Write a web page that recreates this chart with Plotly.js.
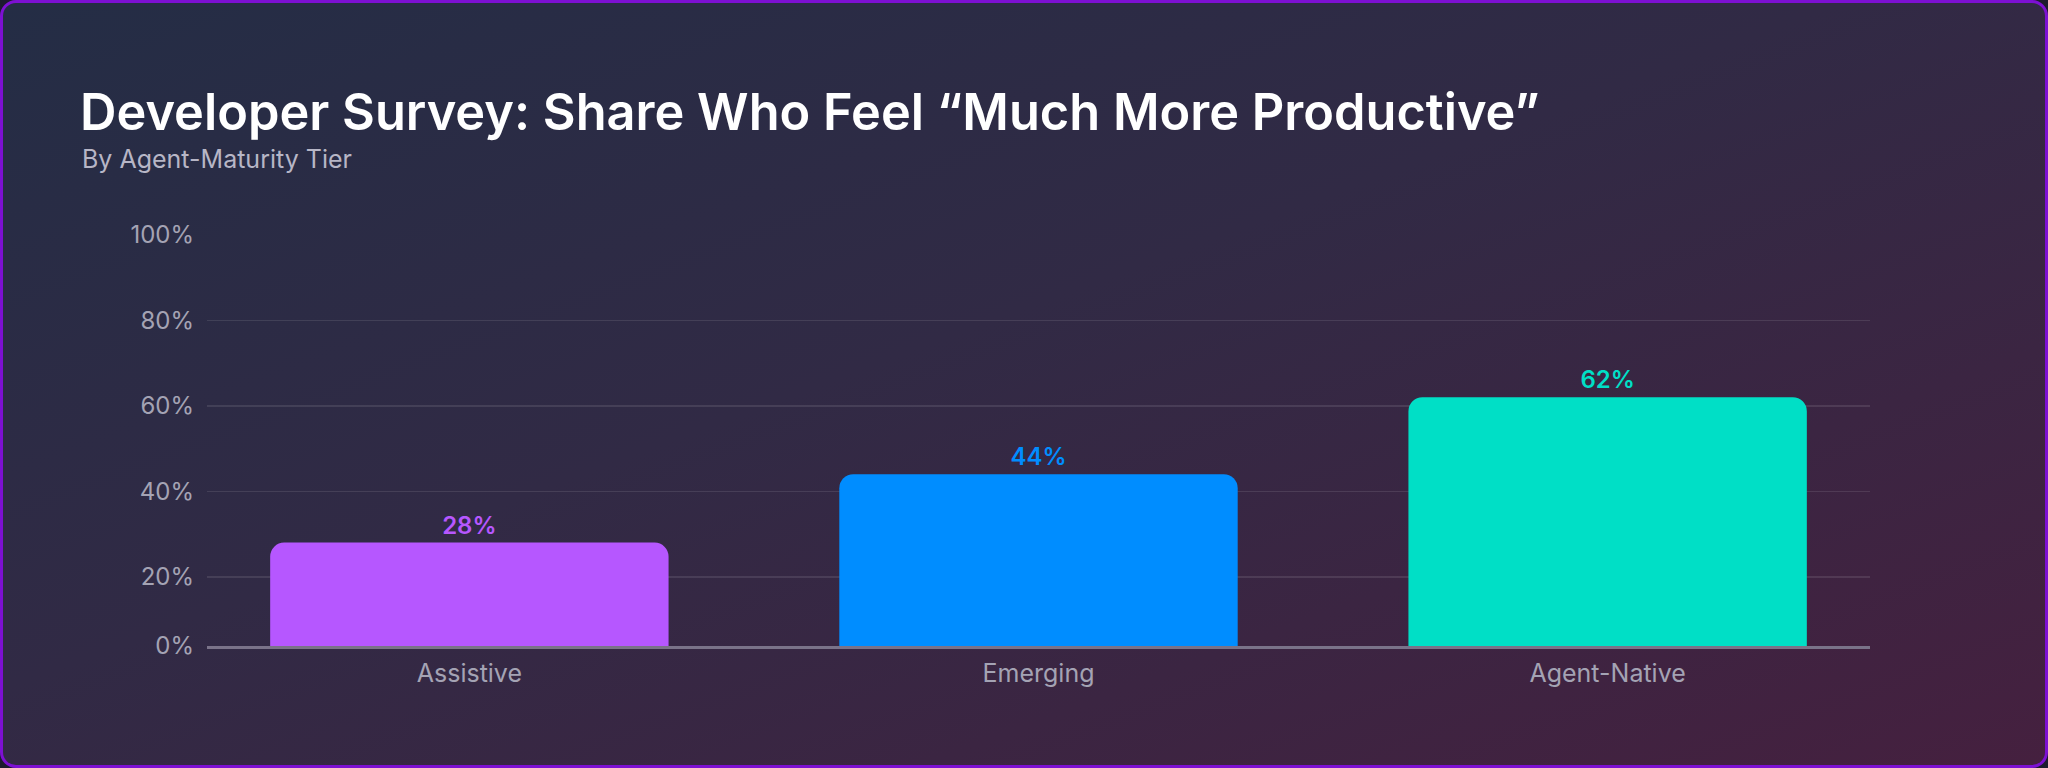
<!DOCTYPE html>
<html>
<head>
<meta charset="utf-8">
<script src="https://cdn.plot.ly/plotly-3.0.1.min.js"></script>
<style>
  html, body { margin: 0; padding: 0; width: 2048px; height: 768px; overflow: hidden; background: #1d1b2e; }
  #card {
    position: absolute; left: 0; top: 0; width: 2048px; height: 768px;
    box-sizing: border-box; border: 3px solid #7d10d2; border-radius: 16px;
    background: linear-gradient(to bottom right, #242d45 0%, #312a45 45%, #45203f 100%);
  }
  #chart { position: absolute; left: 0; top: 0; width: 2048px; height: 768px; }
</style>
</head>
<body>
<div id="card"></div>
<div id="chart"></div>
<script>
// ─── data ───────────────────────────────────────────────
var tiers = ['Assistive', 'Emerging', 'Agent-Native'];
var muchMoreProductive = [28, 44, 62];
var tierColors = ['#b657ff', '#008dff', '#00dfc6'];
var yTickVals = [3.8, 20, 40, 60, 80, 100];   // axis floor sits a little above zero
var yTickText = ['0%', '20%', '40%', '60%', '80%', '100%'];

var W = 2048, H = 768;
var plotL = 207, plotR = 1870, plotT = 234, plotB = 646;
var FONT = 'Inter, "Noto Sans", sans-serif';

// pixel -> paper helpers for the header text
function px(x) { return (x - plotL) / (plotR - plotL); }
function py(y) { return (plotB - y) / (plotB - plotT); }

var trace = {
  type: 'bar',
  x: tiers,
  y: muchMoreProductive,
  width: 0.7,
  marker: { color: tierColors, cornerradius: 14, line: { width: 0 } },
  text: muchMoreProductive.map(function (v) { return v + '%'; }),
  textposition: 'outside',
  cliponaxis: false,
  textfont: { family: FONT, size: 24, weight: 600, color: tierColors },
  hoverinfo: 'x+y'
};

var layout = {
  width: W, height: H,
  paper_bgcolor: 'rgba(0,0,0,0)',
  plot_bgcolor: 'rgba(0,0,0,0)',
  margin: { l: plotL, r: W - plotR, t: plotT, b: H - plotB, pad: 0 },
  showlegend: false,
  font: { family: FONT, color: '#a4a3b4' },
  title: {
    text: 'Developer Survey: Share Who Feel \u201cMuch More Productive\u201d',
    font: { family: FONT, size: 50.5, weight: 600, color: '#ffffff' },
    xref: 'container', yref: 'container',
    x: 80 / W, xanchor: 'left',
    y: 1 - 112 / H, yanchor: 'middle'
  },
  annotations: [{
    text: 'By Agent-Maturity Tier',
    xref: 'paper', yref: 'paper',
    x: px(80), y: py(159), xanchor: 'left', yanchor: 'middle',
    showarrow: false,
    font: { family: FONT, size: 25, color: '#b7b6c6' }
  }],
  xaxis: {
    range: [-0.461, 2.461],
    showgrid: false, zeroline: false,
    showline: true, linecolor: '#7a7389', linewidth: 3,
    ticks: '', ticklabelstandoff: 3,
    tickfont: { family: FONT, size: 25, color: '#a4a3b4' },
    fixedrange: true
  },
  yaxis: {
    range: [3.8, 100.2],
    tickvals: yTickVals, ticktext: yTickText,
    showgrid: true, gridcolor: 'rgba(255,255,255,0.10)', gridwidth: 1.5,
    zeroline: false, showline: false,
    ticks: '', ticklabelstandoff: 12,
    tickfont: { family: FONT, size: 24, color: '#a4a3b4' },
    fixedrange: true
  }
};

Plotly.newPlot('chart', [trace], layout, { displayModeBar: false, staticPlot: true });
</script>
</body>
</html>
